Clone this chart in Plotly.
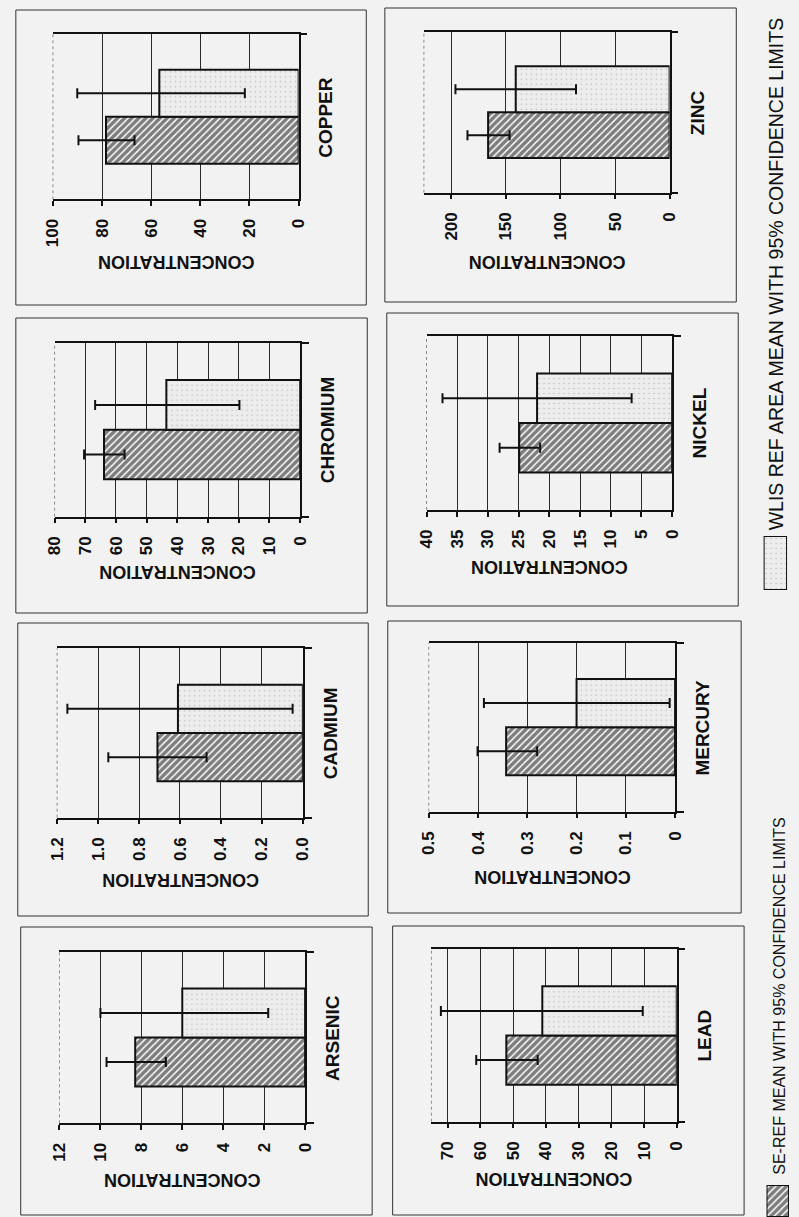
import plotly.graph_objects as go

W, H = 799, 1217
FONT = "Liberation Sans"
BG = "#f2f2f2"

# ---- data -------------------------------------------------------------
elements = ["COPPER", "CHROMIUM", "CADMIUM", "ARSENIC",
            "ZINC", "NICKEL", "MERCURY", "LEAD"]
series_names = ["SE-REF MEAN WITH 95% CONFIDENCE LIMITS",
                "WLIS REF AREA MEAN WITH 95% CONFIDENCE LIMITS"]

se_ref_mean = [78.4, 63.9, 0.71, 8.3, 166.2, 24.9, 0.343, 52.1]
se_ref_upper = [89.6, 70.4, 0.95, 9.7, 185.1, 28.1, 0.401, 61.3]
se_ref_lower = [66.8, 57.2, 0.47, 6.8, 146.5, 21.5, 0.280, 42.5]

wlis_mean = [56.7, 43.6, 0.61, 6.0, 140.9, 22.0, 0.200, 41.1]
wlis_upper = [90.1, 66.8, 1.15, 10.0, 196.1, 37.4, 0.388, 72.1]
wlis_lower = [21.9, 19.8, 0.05, 1.8, 85.7, 6.6, 0.011, 10.4]

axis_max = [100, 80, 1.2, 12, 225, 40, 0.5, 75]
tick_values = [
    [0, 20, 40, 60, 80, 100],
    [0, 10, 20, 30, 40, 50, 60, 70, 80],
    [0, 0.2, 0.4, 0.6, 0.8, 1.0, 1.2],
    [0, 2, 4, 6, 8, 10, 12],
    [0, 50, 100, 150, 200],
    [0, 5, 10, 15, 20, 25, 30, 35, 40],
    [0, 0.1, 0.2, 0.3, 0.4, 0.5],
    [0, 10, 20, 30, 40, 50, 60, 70],
]
tick_labels = [
    ["0", "20", "40", "60", "80", "100"],
    ["0", "10", "20", "30", "40", "50", "60", "70", "80"],
    ["0.0", "0.2", "0.4", "0.6", "0.8", "1.0", "1.2"],
    ["0", "2", "4", "6", "8", "10", "12"],
    ["0", "50", "100", "150", "200"],
    ["0", "5", "10", "15", "20", "25", "30", "35", "40"],
    ["0", "0.1", "0.2", "0.3", "0.4", "0.5"],
    ["0", "10", "20", "30", "40", "50", "60", "70"],
]
value_title = "CONCENTRATION"

# ---- page layout (pixels) -----------------------------------------------
plot_px = [  # x_left, x_right, y_top, y_bottom
    (45.0, 296.7, 34.3, 199.3),
    (46.7, 298.3, 342.7, 516.7),
    (49.3, 301.0, 648.3, 817.7),
    (51.7, 303.3, 951.7, 1123.3),
    (425.0, 676.7, 31.7, 192.7),
    (427.7, 679.3, 336.0, 510.0),
    (430.0, 682.3, 642.7, 811.7),
    (432.7, 684.0, 949.3, 1121.7),
]
box_px = [
    (7, 366, 10, 305), (7, 367, 318, 613), (9, 368, 623, 916), (12, 372, 927, 1215),
    (385, 745, 8, 302), (387, 747, 313, 606), (388, 750, 621, 913), (393, 753, 926, 1215),
]
value_title_y = [262.5, 572.5, 880, 1180, 262.5, 567.5, 876.3, 1179]


def px_x(v):
    return v / W


def px_y(v):
    return 1 - v / H


hatch = dict(shape="/", fgcolor="#000000", bgcolor="#fafafa", size=5, solidity=0.7)
speckle = dict(shape=".", fgcolor="#8a8a8a", bgcolor="#ededed", size=5, solidity=0.08)
outline = dict(color="#111111", width=2)

fig = go.Figure()
layout = dict(
    width=W, height=H,
    margin=dict(l=0, r=0, t=0, b=0),
    paper_bgcolor=BG, plot_bgcolor=BG,
    barmode="group", bargap=0.43, bargroupgap=0,
    showlegend=False,
    font=dict(family=FONT, color="#111111"),
)
shapes, annotations = [], []

for i, name in enumerate(elements):
    n = "" if i == 0 else str(i + 1)
    xa, ya = "x" + n, "y" + n
    x0, x1, y0, y1 = plot_px[i]

    fig.add_trace(go.Bar(
        y=[name], x=[se_ref_mean[i]], orientation="h", xaxis=xa, yaxis=ya,
        name=series_names[0], marker=dict(pattern=hatch, line=outline),
        error_x=dict(type="data", symmetric=False,
                     array=[se_ref_upper[i] - se_ref_mean[i]],
                     arrayminus=[se_ref_mean[i] - se_ref_lower[i]],
                     color="#111111", thickness=2, width=5),
    ))
    fig.add_trace(go.Bar(
        y=[name], x=[wlis_mean[i]], orientation="h", xaxis=xa, yaxis=ya,
        name=series_names[1], marker=dict(pattern=speckle, line=outline),
        error_x=dict(type="data", symmetric=False,
                     array=[wlis_upper[i] - wlis_mean[i]],
                     arrayminus=[wlis_mean[i] - wlis_lower[i]],
                     color="#111111", thickness=2, width=5),
    ))

    layout["xaxis" + n] = dict(
        domain=[px_x(x0), px_x(x1)], anchor=ya,
        range=[axis_max[i], 0],
        tickmode="array", tickvals=tick_values[i],
        ticktext=["<b>%s</b>" % t for t in tick_labels[i]],
        tickangle=-90,
        tickfont=dict(family=FONT, size=17, color="#111111"),
        ticks="outside", ticklen=5, tickwidth=1.5, tickcolor="#111111",
        ticklabelstandoff=6,
        showline=True, linecolor="#111111", linewidth=1.5, mirror=True,
        showgrid=True, gridcolor="#2a2a2a", gridwidth=1, zeroline=False,
    )
    layout["yaxis" + n] = dict(
        domain=[px_y(y1), px_y(y0)], anchor=xa, side="right", type="category",
        showline=True, linecolor="#111111", linewidth=1.5,
        ticks="outside", tickson="boundaries", ticklen=7, tickwidth=1.5,
        tickcolor="#111111", showticklabels=False, showgrid=False, zeroline=False,
    )

    # frame around each chart
    bx0, bx1, by0, by1 = box_px[i]
    shapes.append(dict(type="rect", xref="paper", yref="paper",
                       x0=px_x(bx0), x1=px_x(bx1), y0=px_y(by1), y1=px_y(by0),
                       line=dict(color="#333333", width=1)))
    # faint dotted edge at the top of the value scale
    shapes.append(dict(type="line", xref=xa + " domain", yref=ya + " domain",
                       x0=0, x1=0, y0=0.004, y1=0.996, layer="above",
                       line=dict(color=BG, width=3)))
    shapes.append(dict(type="line", xref=xa + " domain", yref=ya + " domain",
                       x0=0, x1=0, y0=0, y1=1, layer="above",
                       line=dict(color="#8c8c8c", width=1, dash="dot")))

    annotations.append(dict(
        text="<b>%s</b>" % name, xref="paper", yref="paper",
        x=px_x(x1 + 28), y=px_y((y0 + y1) / 2), textangle=-90,
        showarrow=False, xanchor="center", yanchor="middle",
        font=dict(family=FONT, size=19, color="#111111"),
    ))
    annotations.append(dict(
        text="<b>%s</b>" % value_title, xref="paper", yref="paper",
        x=px_x((x0 + x1) / 2), y=px_y(value_title_y[i]), textangle=180,
        showarrow=False, xanchor="center", yanchor="middle",
        font=dict(family=FONT, size=18, color="#111111"),
    ))

# ---- legend keys --------------------------------------------------------
legend_swatch_px = [(776, 802, 1185, 1220), (773, 797, 536, 590)]
legend_text_px = [(789, 1177), (785.5, 532)]
legend_font_size = [16, 19.5]
legend_styles = [hatch, speckle]
for k in range(2):
    n = str(len(elements) + 1 + k)
    sx0, sx1, sy0, sy1 = legend_swatch_px[k]
    fig.add_trace(go.Bar(
        x=[1], y=[0], width=[1], orientation="h", xaxis="x" + n, yaxis="y" + n,
        name=series_names[k], hoverinfo="skip",
        marker=dict(pattern=legend_styles[k], line=outline),
    ))
    layout["xaxis" + n] = dict(domain=[px_x(sx0), min(1, px_x(sx1))], anchor="y" + n,
                               range=[0, 1], visible=False)
    layout["yaxis" + n] = dict(domain=[max(0, px_y(sy1)), px_y(sy0)], anchor="x" + n,
                               range=[-0.5, 0.5], visible=False)
    tx, ty = legend_text_px[k]
    annotations.append(dict(
        text=series_names[k], xref="paper", yref="paper",
        x=px_x(tx), y=px_y(ty), textangle=-90, showarrow=False,
        xanchor="center", yanchor="bottom",
        font=dict(family=FONT, size=legend_font_size[k], color="#111111"),
    ))

layout["shapes"] = shapes
layout["annotations"] = annotations
fig.update_layout(**layout)
fig.write_html("out.html")
